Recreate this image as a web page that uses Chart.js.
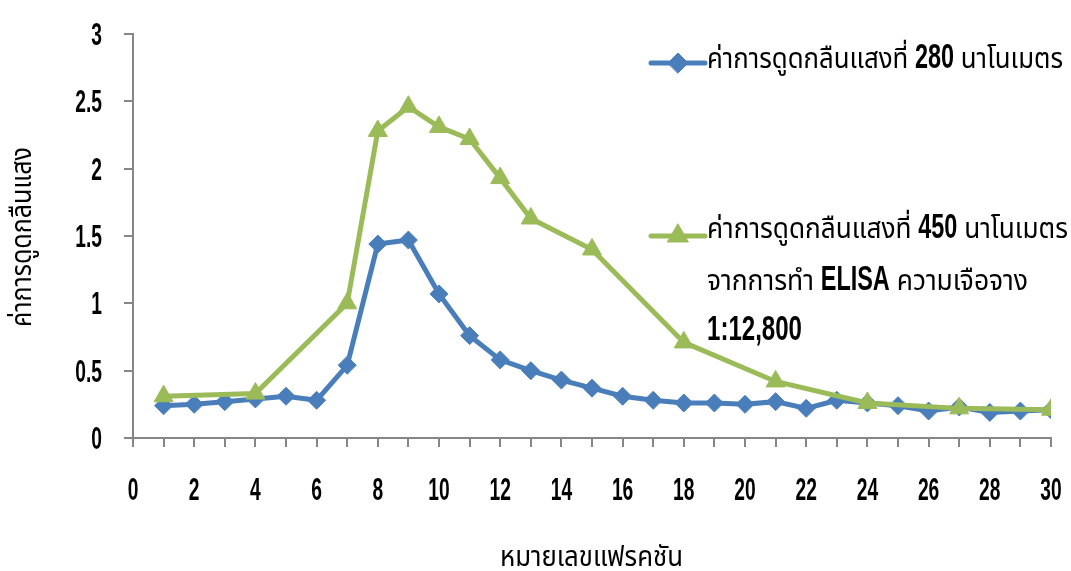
<!DOCTYPE html>
<html>
<head>
<meta charset="utf-8">
<script src="https://cdn.jsdelivr.net/npm/chart.js@4.4.1/dist/chart.umd.min.js"></script>
<style>
body { margin: 0; background: #fff; }
#wrap { width: 1071px; height: 571px; }
</style>
</head>
<body>
<div id="wrap"><canvas id="canvas" width="1071" height="571"></canvas></div>
<script>
// fraction numbers and absorbance readings
const fractions280 = [1, 2, 3, 4, 5, 6, 7, 8, 9, 10, 11, 12, 13, 14, 15, 16, 17, 18, 19, 20, 21, 22, 23, 24, 25, 26, 27, 28, 29, 30];
const absorb280 = [0.24, 0.25, 0.27, 0.29, 0.31, 0.28, 0.54, 1.44, 1.47, 1.07, 0.76, 0.58, 0.50, 0.43, 0.37, 0.31, 0.28, 0.26, 0.26, 0.25, 0.27, 0.22, 0.28, 0.26, 0.24, 0.20, 0.23, 0.19, 0.20, 0.21];
const fractions450 = [1, 4, 7, 8, 9, 10, 11, 12, 13, 15, 18, 21, 24, 27, 30];
const absorb450 = [0.31, 0.33, 1.00, 2.28, 2.46, 2.31, 2.22, 1.93, 1.63, 1.40, 0.71, 0.42, 0.26, 0.22, 0.21];

const label280 = 'ค่าการดูดกลืนแสงที่ 280 นาโนเมตร';
const label450 = 'ค่าการดูดกลืนแสงที่ 450 นาโนเมตร จากการทำ ELISA ความเจือจาง 1:12,800';
const xTitle = 'หมายเลขแฟรคชัน';
const yTitle = 'ค่าการดูดกลืนแสง';

const blue = '#4a7ebb';
const green = '#9bbb59';
const axisGrey = '#868686';
const latin = '"Liberation Sans", "DejaVu Sans", sans-serif';
const thai = '"Noto Sans Thai", "Loma", "Garuda", "Noto Sans", sans-serif';
const thaiFont = '28px ' + thai;
const numFont = 'bold 35px ' + latin;
const tickFont = 'bold 31px ' + latin;
const squeeze = 0.62; // reference digits are very condensed

function toPoints(xs, ys) {
  return xs.map((x, i) => ({ x: x, y: ys[i] }));
}

// latin runs keep a fixed squeeze, thai runs stretch to fill the line width
function drawRuns(ctx, x, baseline, runs, width) {
  let fixed = 0;
  let flex = 0;
  runs.forEach((r) => {
    ctx.font = r.font;
    r.nat = ctx.measureText(r.text).width;
    if (r.sx) fixed += r.nat * r.sx;
    else flex += r.nat;
  });
  const k = flex > 0 ? (width - fixed) / flex : width / fixed;
  ctx.save();
  ctx.textBaseline = 'alphabetic';
  ctx.textAlign = 'left';
  ctx.fillStyle = '#000';
  let cx = x;
  runs.forEach((r) => {
    const s = r.sx ? (flex > 0 ? r.sx : r.sx * k) : k;
    ctx.save();
    ctx.translate(cx, baseline);
    ctx.scale(s, 1);
    ctx.font = r.font;
    ctx.fillText(r.text, 0, 0);
    ctx.restore();
    cx += r.nat * s;
  });
  ctx.restore();
}

function splitRuns(text) {
  const parts = text.match(/[A-Za-z0-9:,]+|[^A-Za-z0-9:,]+/g);
  return parts.map((p) => (/[A-Za-z0-9]/.test(p)
    ? { text: p, font: numFont, sx: 0.67 }
    : { text: p, font: thaiFont }));
}

function squeezedText(ctx, text, x, baseline, align) {
  ctx.save();
  ctx.font = tickFont;
  const w = ctx.measureText(text).width * squeeze;
  let left = x;
  if (align === 'right') left = x - w;
  if (align === 'center') left = x - w / 2;
  ctx.translate(left, baseline);
  ctx.scale(squeeze, 1);
  ctx.fillStyle = '#000';
  ctx.textAlign = 'left';
  ctx.textBaseline = 'alphabetic';
  ctx.fillText(text, 0, 0);
  ctx.restore();
}

function legendMarker(ctx, x, y, color, style, radius) {
  ctx.save();
  ctx.strokeStyle = color;
  ctx.lineWidth = 5;
  ctx.lineCap = 'round';
  ctx.beginPath();
  ctx.moveTo(x - 27, y);
  ctx.lineTo(x + 27, y);
  ctx.stroke();
  ctx.fillStyle = color;
  ctx.lineWidth = 1;
  Chart.helpers.drawPoint(ctx, { pointStyle: style, radius: radius, rotation: 0, borderWidth: 1 }, x, y);
  ctx.restore();
}

const textPlugin = {
  id: 'texts',
  afterDraw(chart) {
    const ctx = chart.ctx;
    const xs = chart.scales.x;
    const ys = chart.scales.y;

    // tick labels, placed by the scales
    xs.ticks.forEach((t) => {
      if (t.value % 2 !== 0) return;
      squeezedText(ctx, String(t.value), xs.getPixelForValue(t.value), xs.top + 62, 'center');
    });
    ys.ticks.forEach((t) => {
      squeezedText(ctx, String(t.value), ys.right - 31, ys.getPixelForValue(t.value) + 11, 'right');
    });

    // legend
    legendMarker(ctx, 678, 63, blue, 'rectRot', 10);
    drawRuns(ctx, 707, 68, splitRuns(label280), 356);

    legendMarker(ctx, 678, 236, green, 'triangle', 12);
    const words = label450.split(' ');
    drawRuns(ctx, 707, 238, splitRuns(words.slice(0, 3).join(' ')), 361);
    drawRuns(ctx, 707, 290, splitRuns(words.slice(3, 6).join(' ')), 321);
    drawRuns(ctx, 707, 340, splitRuns(words.slice(6).join(' ')), 95);

    // axis titles
    ctx.save();
    ctx.translate(31, 237);
    ctx.rotate(-Math.PI / 2);
    drawRuns(ctx, -90, 0, [{ text: yTitle, font: thaiFont }], 180);
    ctx.restore();

    drawRuns(ctx, 500, 566, [{ text: xTitle, font: thaiFont }], 183);
  }
};

const ctx = document.getElementById('canvas').getContext('2d');

new Chart(ctx, {
  type: 'line',
  data: {
    datasets: [{
      label: label450,
      data: toPoints(fractions450, absorb450),
      borderColor: green,
      backgroundColor: green,
      borderWidth: 5,
      pointStyle: 'triangle',
      pointRadius: 11,
      pointBorderWidth: 1,
      tension: 0,
      order: 0,
    }, {
      label: label280,
      data: toPoints(fractions280, absorb280),
      borderColor: blue,
      backgroundColor: blue,
      borderWidth: 5,
      pointStyle: 'rectRot',
      pointRadius: 9,
      pointBorderWidth: 1,
      tension: 0,
      order: 1,
    }],
  },
  options: {
    responsive: false,
    animation: false,
    layout: { padding: { top: 34, right: 20, left: 0, bottom: 0 } },
    plugins: {
      legend: { display: false },
      tooltip: { enabled: false },
    },
    scales: {
      x: {
        type: 'linear',
        min: 0,
        max: 30,
        afterFit: (scale) => { scale.height = 133; },
        ticks: { stepSize: 1, autoSkip: false, display: false },
        grid: { drawOnChartArea: false, tickLength: 9, color: axisGrey, lineWidth: 2 },
        border: { color: axisGrey, width: 2 },
      },
      y: {
        min: 0,
        max: 3,
        afterFit: (scale) => { scale.width = 133; },
        ticks: { stepSize: 0.5, display: false },
        grid: { drawOnChartArea: false, tickLength: 9, color: axisGrey, lineWidth: 2 },
        border: { color: axisGrey, width: 2 },
      },
    },
  },
  plugins: [textPlugin],
});
</script>
</body>
</html>
